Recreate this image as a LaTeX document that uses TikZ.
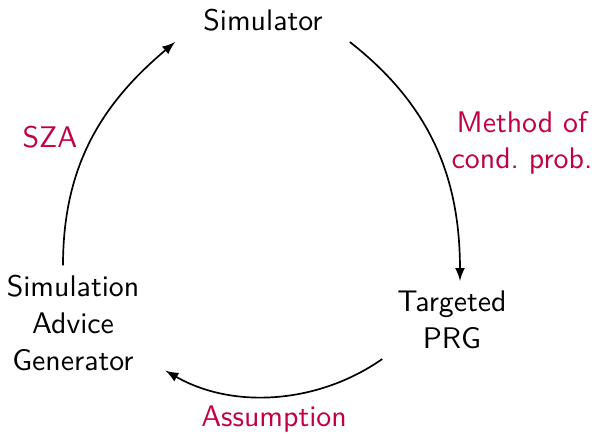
\documentclass[tikz,border=0pt]{standalone}
\usepackage{tikz}

\begin{document}
\begin{tikzpicture}[>=latex,semithick,x=0.0125cm,y=0.0125cm,
	 step node/.style={align=center,font=\fontsize{10.6}{13}\sffamily},
	 edge text/.style={align=center,font=\fontsize{10.6}{13}\sffamily,text=labelred}]

	\definecolor{labelred}{RGB}{194,0,72}

	\useasboundingbox (0,0) rectangle (602,434);

	\node[step node] (sim) at (263,414) {Simulator};
	\node[step node] (prg) at (452,114) {Targeted\\PRG};
	\node[step node] (adv) at (73,111)  {Simulation\\Advice\\Generator};

	\node[edge text] (cond) at (522,291) {Method of\\cond.\ prob.};
	\node[edge text] (asm) at (274,15)   {Assumption};
	\node[edge text] (sza) at (50,297)   {SZA};

	\draw[->] ([shift={(17,-22)}]sim.east) to[out=-38,in=90] ([shift={(8,0)}]prg.north);
	\draw[->] ([shift={(-5,0)}]prg.south west) to[out=-145,in=-30,looseness=0.92] ([shift={(16,10)}]adv.south east);
	\draw[->] ([shift={(-10,0)}]adv.north) to[out=90,in=-140] ([shift={(-18,-22)}]sim.west);

\end{tikzpicture}
\end{document}
